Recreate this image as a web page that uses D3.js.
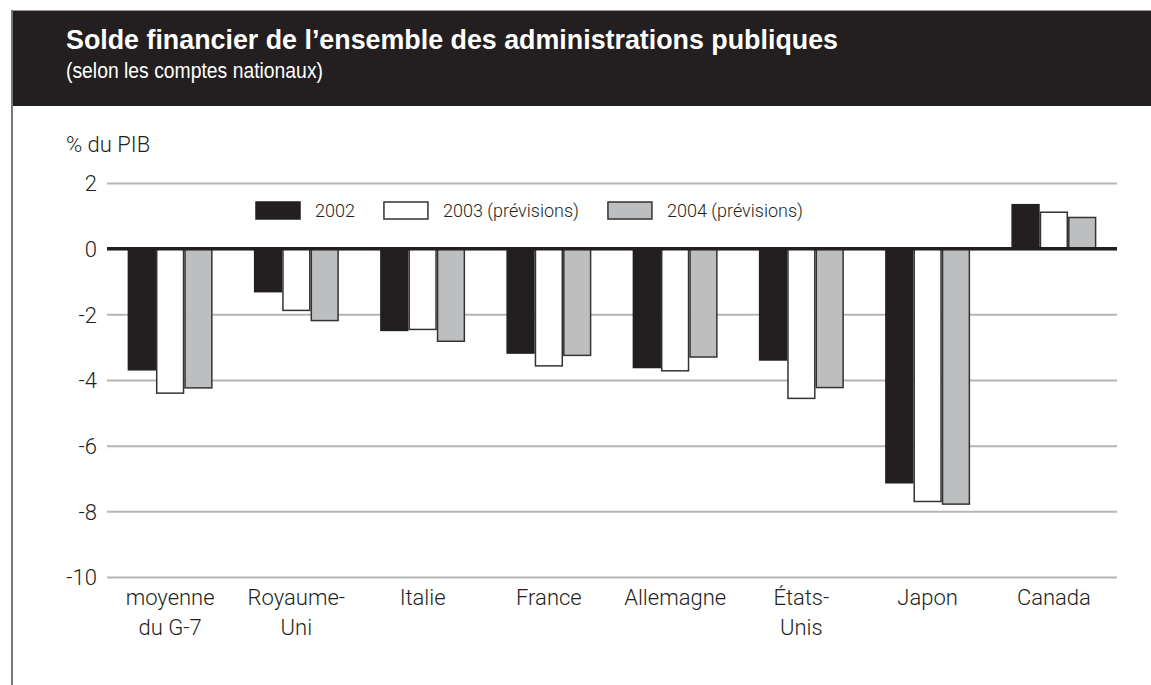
<!DOCTYPE html>
<html>
<head>
<meta charset="utf-8">
<script src="https://cdn.jsdelivr.net/npm/d3@7"></script>
<style>
body{margin:0;background:#fff;}
text{font-family:"Liberation Sans",Arial,sans-serif;}
.lbl{font-family:Roboto,"Liberation Sans",Arial,sans-serif;font-weight:300;fill:#231f20;}
</style>
</head>
<body>
<svg id="chart" width="1151" height="685"></svg>
<script>
var categories = [["moyenne","du G-7"],["Royaume-","Uni"],["Italie"],["France"],["Allemagne"],["États-","Unis"],["Japon"],["Canada"]];
var seriesNames = ["2002","2003 (prévisions)","2004 (prévisions)"];
var v2002 = [-3.69,-1.31,-2.49,-3.18,-3.62,-3.39,-7.13,1.34];
var v2003 = [-4.40,-1.88,-2.46,-3.57,-3.72,-4.56,-7.70,1.11];
var v2004 = [-4.24,-2.19,-2.82,-3.25,-3.30,-4.23,-7.78,0.95];
var yTicks = [2,0,-2,-4,-6,-8,-10];

var seriesVals = [v2002,v2003,v2004];
var fills = ["#231f20","#ffffff","#bcbec0"];
var strokes = ["#231f20","#333","#333"];

var svg = d3.select("#chart");

// bandeau du titre
svg.append("rect").attr("x",11).attr("y",10).attr("width",1140).attr("height",96).attr("fill","#231f20");
svg.append("line").attr("x1",11).attr("x2",1151).attr("y1",10.5).attr("y2",10.5).attr("stroke","#999").attr("stroke-width",1);
svg.append("line").attr("x1",12).attr("x2",12).attr("y1",10).attr("y2",685).attr("stroke","#777").attr("stroke-width",2);
svg.append("text").attr("x",66).attr("y",49).attr("fill","#fff").attr("font-weight","bold").attr("font-size",28)
	.attr("textLength",772).attr("lengthAdjust","spacingAndGlyphs")
	.text("Solde financier de l\u2019ensemble des administrations publiques");
svg.append("text").attr("x",66).attr("y",78).attr("fill","#fff").attr("font-size",22)
	.attr("textLength",257).attr("lengthAdjust","spacingAndGlyphs")
	.text("(selon les comptes nationaux)");

var x = d3.scaleBand().domain(d3.range(categories.length)).range([107,1117]).paddingInner(0.327).paddingOuter(0.1635);
var xs = d3.scaleBand().domain(d3.range(seriesNames.length)).range([0,x.bandwidth()]);
var y = d3.scaleLinear().domain([-10,2]).range([577,183]);

svg.append("text").attr("class","lbl").attr("x",66).attr("y",152).attr("font-size",22).text("% du PIB");

// grille
var yAxis = d3.axisLeft(y).tickValues(yTicks).tickSize(-1010).tickPadding(10).tickFormat(function(d){return String(d);});
var ga = svg.append("g").attr("transform","translate(107,0)").call(yAxis);
ga.select(".domain").remove();
ga.selectAll(".tick line").attr("stroke","#b5b5b5").attr("stroke-width",2);
ga.selectAll(".tick text").attr("class","lbl").attr("font-size",22).attr("dy","0.35em");

// barres
for(var s=0;s<seriesVals.length;s++)
{
	svg.append("g").selectAll("rect").data(seriesVals[s]).enter().append("rect")
		.attr("x",function(d,i){return x(i)+xs(s)+0.75;})
		.attr("width",xs.bandwidth()-1.5)
		.attr("y",function(d){return Math.min(y(d),y(0));})
		.attr("height",function(d){return Math.abs(y(d)-y(0));})
		.attr("fill",fills[s]).attr("stroke",strokes[s]).attr("stroke-width",1.5);
}

svg.append("line").attr("x1",107).attr("x2",1117).attr("y1",y(0)).attr("y2",y(0)).attr("stroke","#231f20").attr("stroke-width",3.5);

// légende
var lx = 256;
for(var k=0;k<seriesNames.length;k++)
{
	svg.append("rect").attr("x",lx).attr("y",202).attr("width",44).attr("height",17)
		.attr("fill",fills[k]).attr("stroke",strokes[k]).attr("stroke-width",1.5);
	var t = svg.append("text").attr("class","lbl").attr("x",lx+59).attr("y",217).attr("font-size",18).text(seriesNames[k]);
	lx = lx+59+t.node().getComputedTextLength()+29;
}

// catégories
var cg = svg.append("g");
categories.forEach(function(lines,i){
	var t = cg.append("text").attr("class","lbl").attr("text-anchor","middle").attr("font-size",22)
		.attr("x",x(i)+x.bandwidth()/2).attr("y",605);
	lines.forEach(function(l,j){
		t.append("tspan").attr("x",x(i)+x.bandwidth()/2).attr("dy",j==0?0:30).text(l);
	});
});
</script>
</body>
</html>
